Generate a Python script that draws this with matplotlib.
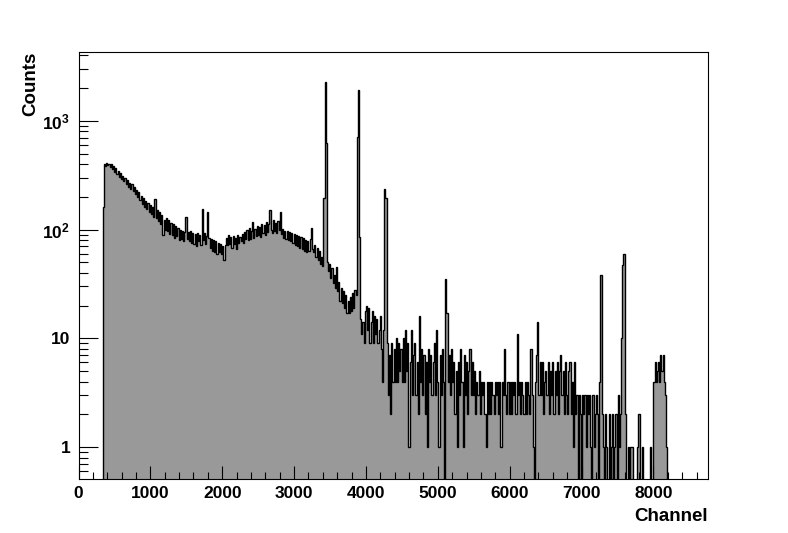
import numpy as np
import matplotlib.pyplot as plt
from matplotlib.ticker import FixedLocator, FixedFormatter, MultipleLocator

plt.rcParams['font.family'] = ['Liberation Sans', 'DejaVu Sans']
plt.rcParams['font.weight'] = 'bold'
plt.rcParams['mathtext.fontset'] = 'custom'
plt.rcParams['mathtext.rm'] = 'Liberation Sans:bold'
plt.rcParams['mathtext.it'] = 'Liberation Sans:bold'
plt.rcParams['mathtext.bf'] = 'Liberation Sans:bold'

# histogram: bins of 16 channels starting at channel 336
first_channel = 336
bin_width = 16

# 336 - 1616
counts_a = [160, 402, 385, 412, 390, 405, 378, 398, 360, 382, 340, 365, 325, 348, 305, 330, 290, 312, 280, 298,
            262, 285, 245, 270, 238, 262, 225, 248, 212, 232, 200, 222, 188, 205, 172, 196, 162, 185, 155, 176,
            145, 168, 138, 160, 130, 192, 128, 150, 120, 145, 112, 135, 90, 122, 100, 128, 98, 122, 92, 116,
            90, 112, 84, 108, 88, 104, 80, 100, 82, 98, 78, 96, 130, 82, 96, 78, 98, 76, 94, 74]
# 1616 - 2896
counts_b = [92, 70, 94, 78, 90, 72, 155, 80, 94, 74, 88, 145, 84, 68, 82, 64, 80, 62, 78, 60,
            76, 62, 74, 60, 70, 52, 72, 84, 72, 90, 74, 86, 68, 88, 74, 84, 66, 90, 76, 86,
            78, 92, 76, 96, 82, 100, 80, 104, 82, 98, 117, 84, 102, 88, 108, 90, 106, 86, 112, 94,
            110, 90, 117, 96, 112, 150, 100, 94, 122, 98, 116, 94, 120, 100, 145, 92, 102, 84, 98, 82]
# 2896 - 4176 (two strong lines)
counts_c = [98, 80, 96, 78, 94, 76, 92, 72, 90, 70, 88, 68, 86, 66, 84, 64, 80, 62, 78, 64,
            82, 103, 66, 62, 72, 56, 68, 52, 64, 48, 56, 46, 195, 2280, 630, 50, 42, 48, 36, 44,
            32, 38, 29, 45, 27, 33, 22, 29, 21, 27, 19, 25, 17, 22, 17, 24, 18, 26, 19, 28,
            25, 710, 1920, 86, 15, 11, 14, 9, 18, 20, 12, 19, 9, 14, 18, 9, 16, 11, 15, 9]
# 4176 - 5456
counts_d = [12, 16, 8, 4, 12, 236, 195, 9, 3, 7, 2, 9, 4, 8, 4, 10, 4, 9, 5, 8,
            4, 10, 4, 12, 5, 9, 1, 6, 12, 3, 7, 9, 3, 6, 2, 16, 4, 8, 3, 7,
            2, 6, 1, 8, 4, 7, 3, 6, 9, 3, 12, 4, 1, 7, 3, 8, 4, 0, 35, 17,
            4, 7, 3, 8, 4, 6, 2, 5, 1, 6, 3, 8, 4, 1, 7, 3, 6, 2, 5, 8]
# 5456 - 6736
counts_e = [3, 6, 3, 5, 2, 4, 3, 5, 2, 4, 3, 4, 2, 1, 4, 2, 4, 2, 4, 3,
            2, 4, 3, 4, 2, 4, 1, 4, 3, 8, 3, 2, 4, 2, 4, 2, 4, 3, 4, 2,
            11, 3, 4, 2, 4, 3, 2, 4, 2, 4, 3, 2, 8, 3, 1, 0, 4, 7, 14, 3,
            6, 3, 6, 2, 4, 5, 3, 6, 2, 5, 3, 6, 2, 5, 3, 6, 2, 5, 7, 3]
# 6736 - 8208
counts_f = [5, 2, 6, 3, 2, 5, 6, 2, 4, 1, 6, 2, 3, 0, 3, 2, 0, 3, 2, 3,
            1, 3, 2, 3, 1, 0, 3, 1, 2, 3, 2, 0, 4, 38, 2, 1, 0, 2, 1, 0,
            2, 0, 1, 2, 0, 1, 2, 0, 3, 1, 2, 10, 47, 60, 2, 0, 0, 1, 0, 1,
            1, 0, 0, 0, 0, 1, 2, 0, 0, 1, 0, 0, 0, 0, 0, 0, 1, 0, 0, 4,
            6, 4, 5, 6, 4, 7, 5, 7, 4, 3, 1, 0]

y_major = [1, 10, 100, 1000]
y_major_labels = ['1', '10', r'$10^{2}$', r'$10^{3}$']

counts = np.array(counts_a + counts_b + counts_c + counts_d + counts_e + counts_f, dtype=float)
edges = first_channel + bin_width * np.arange(len(counts) + 1)
floor = 0.01
shown = np.where(counts > 0, counts, floor)

fig = plt.figure(figsize=(7.88, 5.33), dpi=100)
ax = fig.add_axes([78.5 / 788, 54 / 533, 629.5 / 788, 427 / 533])

ax.stairs(shown, edges, baseline=floor, fill=True, color='#999999', lw=0)
ax.stairs(shown, edges, baseline=floor, color='black', lw=1.0)

ax.set_yscale('log')
ax.set_xlim(0, 8760)
ax.set_ylim(0.508, 4300)

ax.xaxis.set_major_locator(MultipleLocator(1000))
ax.xaxis.set_minor_locator(MultipleLocator(200))
ax.yaxis.set_major_locator(FixedLocator(y_major))
ax.yaxis.set_major_formatter(FixedFormatter(y_major_labels))
minor_y = [m * d for d in [0.1, 1, 10, 100, 1000] for m in range(2, 10)]
ax.yaxis.set_minor_locator(FixedLocator(minor_y))
ax.yaxis.set_minor_formatter(FixedFormatter([''] * len(minor_y)))

ax.tick_params(axis='x', which='major', direction='in', length=9.4, width=0.8, labelsize=12.5, pad=5)
ax.tick_params(axis='x', which='minor', direction='in', length=4.7, width=0.8)
ax.tick_params(axis='y', which='major', direction='in', length=13.7, width=0.8, labelsize=12.5, pad=6)
ax.tick_params(axis='y', which='minor', direction='in', length=6.8, width=0.8)
ax.tick_params(top=False, right=False, which='both')
for s in ax.spines.values():
    s.set_linewidth(0.8)

fig.text(30.7 / 788, 1 - 52 / 533, 'Counts', rotation=90, ha='center', va='top', fontsize=13.5)
fig.text(708 / 788, 1 - 516.5 / 533, 'Channel', ha='right', va='center', fontsize=13.5)

fig.savefig('out.png', dpi=100)
